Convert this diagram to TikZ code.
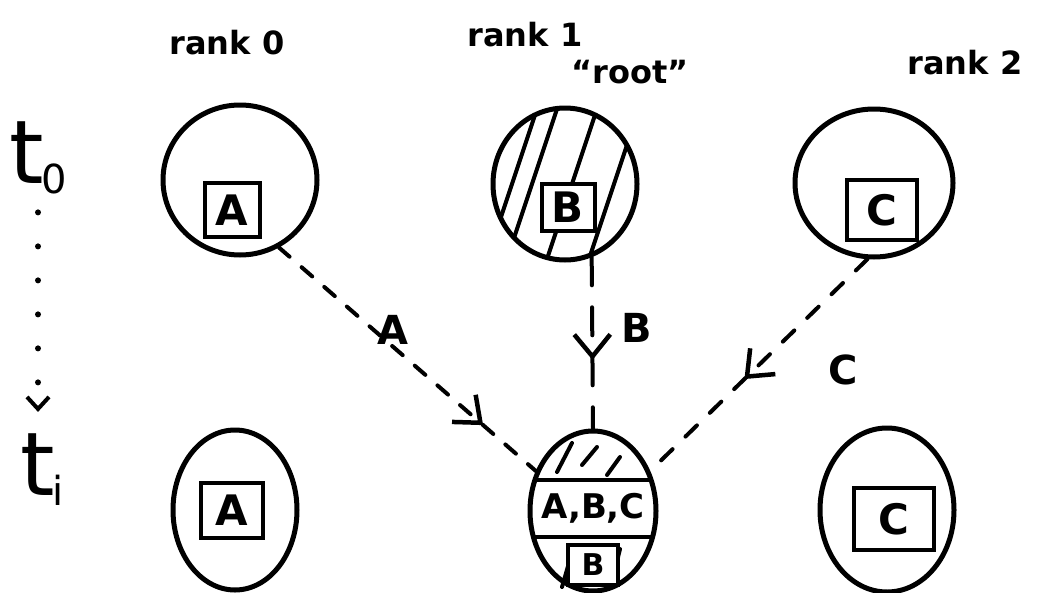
\documentclass[tikz,border=0pt]{standalone}
\usepackage{fontspec}
\setmainfont{DejaVu Sans}
\usetikzlibrary{shapes.geometric, arrows.meta, decorations.markings}

\newcommand{\timestep}[1]{t\kern-2pt\raisebox{-10pt}{\fontsize{40}{40}\selectfont #1}}

\begin{document}
\begin{tikzpicture}[x=1pt, y=-1pt,
  blob/.style={draw, ellipse, line width=5pt, inner sep=0pt},
  tag/.style={draw, line width=4pt, fill=white, inner sep=0pt,
    font=\fontsize{42}{42}\selectfont\bfseries},
  rank/.style={font=\fontsize{32}{32}\selectfont\bfseries},
  lbl/.style={font=\fontsize{40}{40}\selectfont\bfseries},
  timelbl/.style={font=\fontsize{88}{88}\selectfont, inner sep=0pt},
  hatch/.style={line width=4pt, line cap=round},
  flow/.style={line width=4pt, line cap=round},
  midtip/.style={postaction={decorate, decoration={markings,
    mark=at position #1 with {\arrow{Straight Barb[length=22pt, width=36pt, line width=4.5pt]}}}}}
]
\useasboundingbox (0,0) rectangle (1039,592);

% rank labels
\node[rank] (l0) at (227,43) {rank 0};
\node[rank] (l1) at (525,35) {rank 1};
\node[rank] (root) at (630,72) {“root”};
\node[rank] (l2) at (965,63) {rank 2};

% time axis
\node[timelbl] (t0) at (38,158) {\timestep{0}};
\node[timelbl] (ti) at (42,470) {\timestep{i}};
\draw[line width=6pt, line cap=round, dash pattern=on 0pt off 34pt,
      shorten <=18pt, shorten >=22pt,
      -{Straight Barb[length=12pt, width=22pt, line width=4pt]}]
  (t0.south) -- (t0.south |- ti.north);

% hatching of the root at t0
\begin{scope}
  \clip (565,184) ellipse [x radius=72, y radius=76];
  \foreach \x in {512,532,572,614}
    \draw[hatch] (\x-30,274) -- (\x+30,94);
\end{scope}

% band and hatching of the root at ti
\begin{scope}
  \clip (593,511) ellipse [x radius=63, y radius=80];
  \draw[line width=4.5pt] (520,480) -- (670,480);
  \draw[line width=4.5pt] (520,537) -- (670,537);
\end{scope}
\draw[hatch] (557,472) -- (572,443);
\draw[hatch] (582,465) -- (597,447);
\draw[hatch] (607,475) -- (620,457);
\draw[hatch] (562,587) -- (573,549);
\draw[hatch] (612,582) -- (620,549);

% processes
\node[blob, minimum width=154pt, minimum height=150pt] (r0t) at (240,180) {};
\node[blob, minimum width=144pt, minimum height=152pt] (r1t) at (565,184) {};
\node[blob, minimum width=158pt, minimum height=148pt] (r2t) at (874,183) {};
\node[blob, minimum width=124pt, minimum height=160pt] (r0b) at (235,510) {};
\node[blob, minimum width=126pt, minimum height=160pt] (r1b) at (593,511) {};
\node[blob, minimum width=134pt, minimum height=164pt] (r2b) at (887,510) {};

% data held by each process
\node[tag, minimum width=55pt, minimum height=54pt] (a0t) at (232,210) {A};
\node[tag, minimum width=53pt, minimum height=47pt] (b1t) at (568,207) {B};
\node[tag, minimum width=70pt, minimum height=60pt] (c2t) at (882,210) {C};
\node[tag, minimum width=62pt, minimum height=55pt] (a0b) at (232,510) {A};
\node[font=\fontsize{34}{34}\selectfont\bfseries, inner sep=0pt] (abc) at (593,508) {A,B,C};
\node[tag, minimum width=50pt, minimum height=40pt,
      font=\fontsize{30}{30}\selectfont\bfseries] (b1b) at (593,565) {B};
\node[tag, minimum width=80pt, minimum height=62pt] (c2b) at (894,519) {C};

% gather onto the root
\draw[flow, dash pattern=on 14pt off 16pt, midtip=0.795] (r0t.-60) -- (r1b.145);
\draw[flow, dash pattern=on 28pt off 22pt, midtip=0.6] (r1t.-70) -- (r1b.north);
\draw[flow, dash pattern=on 16pt off 18pt, midtip=0.566] (r2t.-95) -- (r1b.35);

\node[lbl] (la) at (393,330) {A};
\node[lbl] (lb) at (637,328) {B};
\node[lbl] (lc) at (843,370) {C};
\end{tikzpicture}
\end{document}
